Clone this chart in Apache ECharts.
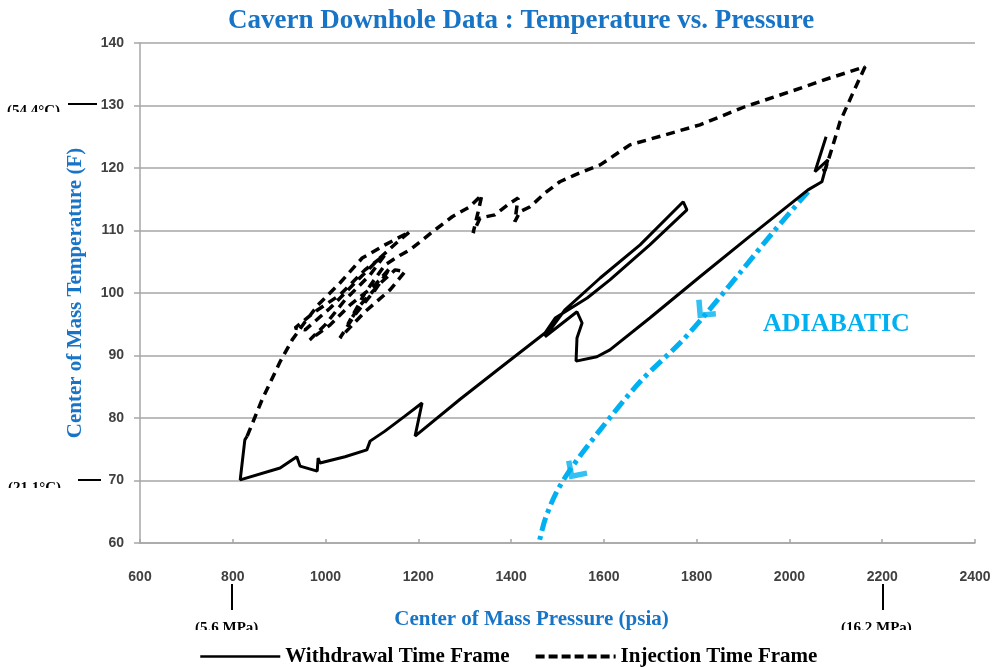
<!DOCTYPE html>
<html>
<head>
<meta charset="utf-8">
<script src="https://cdn.jsdelivr.net/npm/echarts@6/dist/echarts.min.js"></script>
<style>
  html, body { margin: 0; padding: 0; background: #fff; }
  #main { width: 994px; height: 667px; }
</style>
</head>
<body>
<div id="main"></div>
<script>
// withdrawal path [psia, F]
const withdrawal = [
  [2079, 125.0], [2055, 119.4], [2083, 121.3], [2070, 117.8], [2040, 116.5],
  [1915, 109.1], [1807, 102.6], [1699, 96.0], [1613, 90.9], [1585, 89.8],
  [1540, 89.1], [1542, 92.8], [1553, 95.2], [1542, 97.0], [1473, 93.0],
  [1516, 97.3], [1592, 102.4], [1678, 107.7], [1771, 114.6], [1779, 113.3],
  [1699, 107.7], [1613, 102.1], [1564, 99.2], [1495, 96.0], [1473, 93.6],
  [1376, 88.0], [1290, 83.0], [1193, 77.1], [1208, 82.4], [1171, 80.3],
  [1128, 77.9], [1096, 76.3], [1089, 74.9], [1042, 73.8], [988, 72.8],
  [984, 73.6], [982, 71.5], [945, 72.3], [938, 73.8], [902, 72.0],
  [816, 70.1], [826, 76.5], [831, 77.1]
];

// injection path [psia, F]
const injection = [
  [831, 77.1], [863, 82.9], [902, 89.0], [928, 92.5], [956, 95.4],
  [984, 98.1], [1031, 101.6], [1079, 105.6], [1128, 107.7], [1182, 109.8],
  [1160, 108.5], [1117, 105.6], [1063, 101.6], [1010, 97.6], [956, 94.1],
  [934, 94.4], [977, 97.0], [1031, 99.7], [1085, 103.7], [1128, 106.1],
  [1096, 102.9], [1042, 98.9], [999, 94.9], [966, 92.5], [1010, 94.9],
  [1053, 98.1], [1107, 101.3], [1139, 104.0], [1107, 100.5], [1063, 96.5],
  [1031, 92.8], [1085, 97.0], [1139, 100.5], [1171, 103.4], [1150, 103.7],
  [1117, 101.5], [1074, 98.0], [1048, 95.0], [1085, 100.0], [1128, 104.5],
  [1160, 106.0],
  [1182, 106.9], [1236, 110.1], [1273, 112.2], [1311, 113.8], [1337, 115.7],
  [1329, 113.0], [1318, 109.6], [1333, 112.0], [1365, 112.5], [1398, 114.4],
  [1415, 115.2], [1408, 111.4], [1419, 113.0], [1441, 113.8], [1473, 116.0],
  [1505, 117.8], [1538, 118.9], [1592, 120.5], [1656, 123.7], [1732, 125.3],
  [1807, 126.9], [1904, 129.8], [2001, 132.2], [2087, 134.4], [2163, 136.2],
  [2135, 131.7], [2109, 127.4], [2092, 123.2], [2077, 119.7], [2066, 119.4]
];

// adiabatic guide curve [psia, F]
const adiabatic = [
  [2040, 116.2], [1969, 110.1], [1893, 103.2], [1818, 96.5], [1764, 92.0],
  [1678, 85.8], [1592, 78.1], [1527, 71.7], [1495, 67.7], [1473, 63.7], [1460, 60.0]
];
// arrowheads on the adiabatic curve [psia, F, rotation]
const adiabaticArrows = [
  [1814, 97.0, 140], [1536, 71.3, 146]
];

const xTicks = [600, 2400, 200];
const yTicks = [60, 140, 10];

const blue = '#00B0F0';
const titleBlue = '#1874C6';
const chevron = 'path://M0,10 L10,0 L20,10 L17,13 L10,6 L3,13 Z';

const chart = echarts.init(document.getElementById('main'));
const option = {
  backgroundColor: '#fff',
  animation: false,
  title: {
    text: 'Cavern Downhole Data : Temperature vs. Pressure',
    left: 223,
    top: 3,
    textStyle: { fontFamily: 'Liberation Serif', fontWeight: 'bold', fontSize: 27, color: titleBlue }
  },
  grid: { left: 140, right: 19, top: 43, bottom: 124 },
  legend: {
    data: [
      { name: 'Withdrawal Time Frame', lineStyle: { width: 2.5 } },
      { name: 'Injection Time Frame', lineStyle: { width: 4, type: [9, 4] } }
    ],
    top: 641,
    left: 194,
    itemWidth: 80,
    itemHeight: 12,
    itemGap: 24,
    itemStyle: { opacity: 0 },
    textStyle: { fontFamily: 'Liberation Serif', fontWeight: 'bold', fontSize: 21, color: '#000' }
  },
  xAxis: {
    type: 'value',
    min: xTicks[0], max: xTicks[1], interval: xTicks[2],
    name: 'Center of Mass Pressure (psia)',
    nameLocation: 'middle',
    nameGap: 66,
    nameTextStyle: { fontFamily: 'Liberation Serif', fontWeight: 'bold', fontSize: 21, color: titleBlue, padding: [0, 52, 0, 0] },
    axisLine: { lineStyle: { color: '#a6a6a6', width: 1.5 } },
    axisTick: { inside: true, length: 4, lineStyle: { color: '#a6a6a6', width: 1.5 } },
    axisLabel: { margin: 27, fontFamily: 'Liberation Sans', fontWeight: 'bold', fontSize: 14, color: '#404040', formatter: v => String(v) },
    splitLine: { show: false }
  },
  yAxis: {
    type: 'value',
    min: yTicks[0], max: yTicks[1], interval: yTicks[2],
    name: 'Center of Mass Temperature (F)',
    nameLocation: 'middle',
    nameGap: 54,
    nameTextStyle: { fontFamily: 'Liberation Serif', fontWeight: 'bold', fontSize: 21, color: titleBlue },
    axisLine: { show: true, lineStyle: { color: '#a6a6a6', width: 1.5 } },
    axisTick: { show: true, length: 6, lineStyle: { color: '#a6a6a6', width: 1.5 } },
    axisLabel: { margin: 16, fontFamily: 'Liberation Sans', fontWeight: 'bold', fontSize: 14, color: '#404040', formatter: v => String(v) },
    splitLine: { lineStyle: { color: '#a6a6a6', width: 1.5 } }
  },
  series: [
    {
      name: 'Withdrawal Time Frame',
      type: 'line',
      data: withdrawal,
      showSymbol: false,
      symbol: 'none',
      lineStyle: { color: '#000', width: 3 },
      itemStyle: { color: '#000' },
      z: 3
    },
    {
      name: 'Injection Time Frame',
      type: 'line',
      data: injection,
      showSymbol: false,
      symbol: 'none',
      lineStyle: { color: '#000', width: 3.5, type: [9, 6] },
      itemStyle: { color: '#000' },
      z: 3
    },
    {
      name: 'Adiabatic',
      type: 'line',
      data: adiabatic,
      smooth: 0.3,
      showSymbol: false,
      symbol: 'none',
      lineStyle: { color: blue, width: 5, type: [14, 5, 4, 5] },
      z: 2
    },
    {
      name: 'Adiabatic arrows',
      type: 'scatter',
      data: adiabaticArrows.map(a => ({ value: [a[0], a[1]], symbolRotate: a[2] })),
      symbol: chevron,
      symbolSize: [26, 17],
      itemStyle: { color: blue },
      z: 4
    }
  ],
  graphic: [
    { type: 'text', left: 763, top: 311, style: { text: 'ADIABATIC', fill: blue, font: 'bold 26px "Liberation Serif"' } },
    // metric reference marks
    { type: 'line', shape: { x1: 68, y1: 104, x2: 97, y2: 104 }, style: { stroke: '#000', lineWidth: 2 } },
    { type: 'line', shape: { x1: 78, y1: 480, x2: 101, y2: 480 }, style: { stroke: '#000', lineWidth: 2 } },
    { type: 'line', shape: { x1: 232, y1: 584, x2: 232, y2: 610 }, style: { stroke: '#000', lineWidth: 2 } },
    { type: 'line', shape: { x1: 883, y1: 584, x2: 883, y2: 610 }, style: { stroke: '#000', lineWidth: 2 } },
    { type: 'text', left: 7, top: 104, style: { text: '(54.4°C)', fill: '#000', font: 'bold 15px "Liberation Serif"' } },
    { type: 'text', left: 8, top: 481, style: { text: '(21.1°C)', fill: '#000', font: 'bold 15px "Liberation Serif"' } },
    { type: 'text', left: 195, top: 621, style: { text: '(5.6 MPa)', fill: '#000', font: 'bold 15px "Liberation Serif"' } },
    { type: 'text', left: 841, top: 621, style: { text: '(16.2 MPa)', fill: '#000', font: 'bold 15px "Liberation Serif"' } },
    // the metric labels are cut off in the source picture
    { type: 'rect', shape: { x: 0, y: 112, width: 68, height: 14 }, style: { fill: '#fff' }, z: 100 },
    { type: 'rect', shape: { x: 0, y: 488, width: 72, height: 14 }, style: { fill: '#fff' }, z: 100 },
    { type: 'rect', shape: { x: 185, y: 630, width: 90, height: 10 }, style: { fill: '#fff' }, z: 100 },
    { type: 'rect', shape: { x: 830, y: 630, width: 100, height: 10 }, style: { fill: '#fff' }, z: 100 }
  ]
};
chart.setOption(option);
</script>
</body>
</html>
